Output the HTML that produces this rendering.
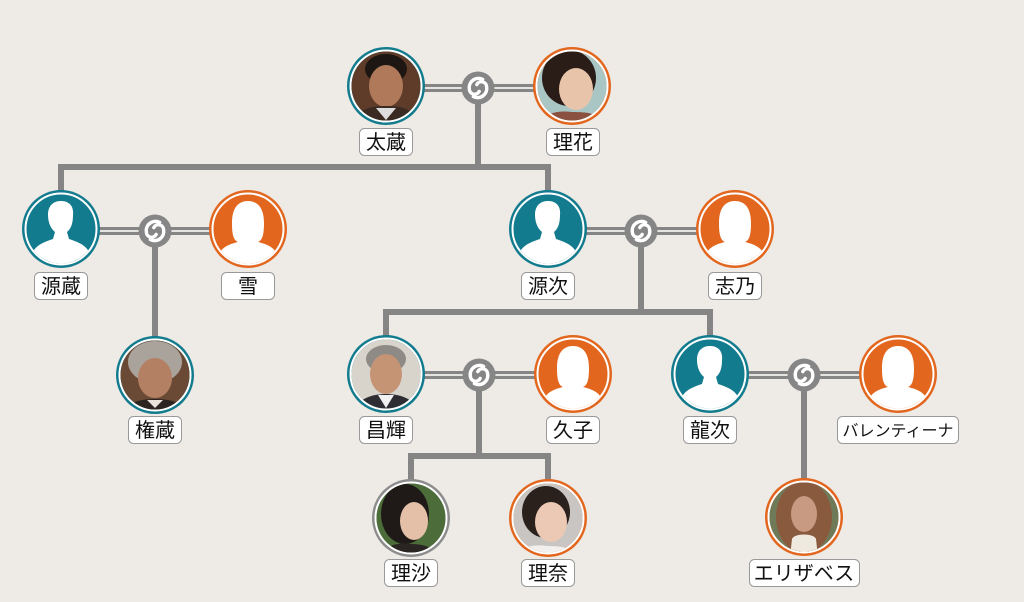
<!DOCTYPE html>
<html><head><meta charset="utf-8">
<style>
html,body{margin:0;padding:0;background:#eeebe6;}
svg{display:block;}
text{font-family:"Liberation Sans","Noto Sans CJK JP",sans-serif;fill:#111;}
</style></head>
<body>
<svg width="1024" height="602" viewBox="0 0 1024 602" xmlns="http://www.w3.org/2000/svg">
<defs>
  <clipPath id="cc"><circle cx="0" cy="0" r="34.5"/></clipPath>
  <path id="male" d="M -32,40 C -32,18 -20,14 -8,10 L -6,3 C -11,-1 -13,-8 -13,-14 C -13,-24 -7,-28 0,-28 C 8,-28 13,-23 12,-14 C 12,-8 11,-1 6,3 L 8,10 C 20,14 32,18 32,40 Z" fill="#fff"/>
  <path id="female" d="M -32,40 C -32,20 -22,16 -10,13 C -15,11 -16,4 -16,-6 C -16,-22 -9,-28 0,-28 C 9,-28 16,-22 16,-6 C 16,4 15,11 10,13 C 22,16 32,20 32,40 Z" fill="#fff"/>
  <g id="mring">
    <circle r="16.5" fill="#868686"/>
    <g transform="scale(1.15)">
    <path d="M 4,-7.5 A 8 8 0 0 0 -7.5,1 A 4.5 4.5 0 0 0 1,3" fill="none" stroke="#fff" stroke-width="3" stroke-linecap="round"/>
    <path d="M 4,-7.5 A 8 8 0 0 0 -7.5,1 A 4.5 4.5 0 0 0 1,3" fill="none" stroke="#fff" stroke-width="3" stroke-linecap="round" transform="rotate(180)"/>
    </g>
  </g>
</defs>

<!-- descent lines -->
<g stroke="#858585" stroke-width="6" fill="none">
  <path d="M 478,100 V 167 M 61,167 H 548 M 61,164 V 195 M 548,164 V 195"/>
  <path d="M 155,240 V 340"/>
  <path d="M 641,240 V 312 M 386,312 H 710 M 386,309 V 340 M 710,309 V 340"/>
  <path d="M 479,385 V 456 M 411,456 H 548 M 411,453 V 484 M 548,453 V 484"/>
  <path d="M 804,385 V 484"/>
</g>

<!-- marriage double lines -->
<g>
  <g stroke="#858585" stroke-width="8">
    <line x1="420" y1="88" x2="540" y2="88"/>
    <line x1="95" y1="231" x2="215" y2="231"/>
    <line x1="582" y1="231" x2="702" y2="231"/>
    <line x1="420" y1="375" x2="540" y2="375"/>
    <line x1="744" y1="375" x2="864" y2="375"/>
  </g>
  <g stroke="#f4f2ee" stroke-width="1.8">
    <line x1="420" y1="88" x2="540" y2="88"/>
    <line x1="95" y1="231" x2="215" y2="231"/>
    <line x1="582" y1="231" x2="702" y2="231"/>
    <line x1="420" y1="375" x2="540" y2="375"/>
    <line x1="744" y1="375" x2="864" y2="375"/>
  </g>
</g>
<use href="#mring" x="478" y="88"/>
<use href="#mring" x="155" y="231"/>
<use href="#mring" x="641" y="231"/>
<use href="#mring" x="479" y="375"/>
<use href="#mring" x="804" y="375"/>

<!-- nodes -->
<g transform="translate(386,86)">
  <circle r="39" fill="#137b8e"/><circle r="35.5" fill="none" stroke="#fff" stroke-width="2"/>
  <g clip-path="url(#cc)">
    <rect x="-40" y="-40" width="80" height="80" fill="#5e3c29"/>
    <ellipse cx="0" cy="-17" rx="21" ry="15" fill="#1e1612"/>
    <ellipse cx="0" cy="0" rx="17" ry="21" fill="#b07a5a"/>
    <path d="M -34,40 C -30,24 -18,20 0,20 C 18,20 30,24 34,40 Z" fill="#3a2a22"/>
    <path d="M -10,22 L 0,34 L 10,22 Z" fill="#ddd"/>
  </g>
</g>
<g transform="translate(572,86)">
  <circle r="39" fill="#e2661e"/><circle r="35.5" fill="none" stroke="#fff" stroke-width="2"/>
  <g clip-path="url(#cc)">
    <rect x="-40" y="-40" width="80" height="80" fill="#a9c6c4"/>
    <ellipse cx="-3" cy="-8" rx="27" ry="28" fill="#2a1d18"/>
    <ellipse cx="4" cy="3" rx="17" ry="21" fill="#e8c4aa"/>
    <path d="M -34,40 C -30,28 -16,24 0,26 C 18,26 30,28 34,40 Z" fill="#8a5040"/>
  </g>
</g>
<g transform="translate(61,229)">
  <circle r="39" fill="#137b8e"/><circle r="35.5" fill="none" stroke="#fff" stroke-width="2"/>
  <g clip-path="url(#cc)"><use href="#male"/></g>
</g>
<g transform="translate(248,229)">
  <circle r="39" fill="#e2661e"/><circle r="35.5" fill="none" stroke="#fff" stroke-width="2"/>
  <g clip-path="url(#cc)"><use href="#female"/></g>
</g>
<g transform="translate(548,229)">
  <circle r="39" fill="#137b8e"/><circle r="35.5" fill="none" stroke="#fff" stroke-width="2"/>
  <g clip-path="url(#cc)"><use href="#male"/></g>
</g>
<g transform="translate(735,229)">
  <circle r="39" fill="#e2661e"/><circle r="35.5" fill="none" stroke="#fff" stroke-width="2"/>
  <g clip-path="url(#cc)"><use href="#female"/></g>
</g>
<g transform="translate(155,375)">
  <circle r="39" fill="#137b8e"/><circle r="35.5" fill="none" stroke="#fff" stroke-width="2"/>
  <g clip-path="url(#cc)">
    <rect x="-40" y="-40" width="80" height="80" fill="#6b4a35"/>
    <ellipse cx="0" cy="-13" rx="27" ry="21" fill="#a9a39c"/>
    <ellipse cx="0" cy="3" rx="17" ry="20" fill="#b38064"/>
    <path d="M -34,40 C -30,28 -16,24 0,24 C 16,24 30,28 34,40 Z" fill="#2b2420"/>
    <path d="M -8,25 L 0,33 L 8,25 Z" fill="#e8e4dc"/>
  </g>
</g>
<g transform="translate(386,374)">
  <circle r="39" fill="#137b8e"/><circle r="35.5" fill="none" stroke="#fff" stroke-width="2"/>
  <g clip-path="url(#cc)">
    <rect x="-40" y="-40" width="80" height="80" fill="#d8d4cc"/>
    <ellipse cx="0" cy="-15" rx="20" ry="14" fill="#8e8a85"/>
    <ellipse cx="0" cy="0" rx="16" ry="20" fill="#c49474"/>
    <path d="M -34,40 C -30,26 -16,20 0,20 C 16,20 30,26 34,40 Z" fill="#2d2d33"/>
    <path d="M -8,21 L 0,34 L 8,21 Z" fill="#f0f0f0"/>
  </g>
</g>
<g transform="translate(573,374)">
  <circle r="39" fill="#e2661e"/><circle r="35.5" fill="none" stroke="#fff" stroke-width="2"/>
  <g clip-path="url(#cc)"><use href="#female"/></g>
</g>
<g transform="translate(710,374)">
  <circle r="39" fill="#137b8e"/><circle r="35.5" fill="none" stroke="#fff" stroke-width="2"/>
  <g clip-path="url(#cc)"><use href="#male"/></g>
</g>
<g transform="translate(898,374)">
  <circle r="39" fill="#e2661e"/><circle r="35.5" fill="none" stroke="#fff" stroke-width="2"/>
  <g clip-path="url(#cc)"><use href="#female"/></g>
</g>
<g transform="translate(411,518)">
  <circle r="39" fill="#8c8c8c"/><circle r="35.5" fill="none" stroke="#fff" stroke-width="2"/>
  <g clip-path="url(#cc)">
    <rect x="-40" y="-40" width="80" height="80" fill="#4c6d3a"/>
    <ellipse cx="-6" cy="-4" rx="24" ry="30" fill="#1f1a18"/>
    <ellipse cx="3" cy="3" rx="14" ry="19" fill="#e4c0a8"/>
    <path d="M -34,40 C -28,28 -14,24 0,26 C 14,26 24,30 30,40 Z" fill="#2a2422"/>
  </g>
</g>
<g transform="translate(548,518)">
  <circle r="39" fill="#e2661e"/><circle r="35.5" fill="none" stroke="#fff" stroke-width="2"/>
  <g clip-path="url(#cc)">
    <rect x="-40" y="-40" width="80" height="80" fill="#c8c5c2"/>
    <ellipse cx="-2" cy="-6" rx="24" ry="26" fill="#2a201c"/>
    <ellipse cx="3" cy="4" rx="16" ry="20" fill="#ecc9b5"/>
    <path d="M -34,40 C -28,28 -14,26 0,28 C 14,28 26,30 32,40 Z" fill="#f2f0ee"/>
  </g>
</g>
<g transform="translate(804,517)">
  <circle r="39" fill="#e2661e"/><circle r="35.5" fill="none" stroke="#fff" stroke-width="2"/>
  <g clip-path="url(#cc)">
    <rect x="-40" y="-40" width="80" height="80" fill="#6f7a58"/>
    <ellipse cx="0" cy="0" rx="28" ry="36" fill="#8a5a3e"/>
    <ellipse cx="0" cy="-3" rx="13" ry="18" fill="#c99a82"/>
    <path d="M -12,22 C -10,16 10,16 12,22 L 14,40 L -14,40 Z" fill="#eeeae0"/>
  </g>
</g>

<!-- labels -->
<g fill="#fff" stroke="#999" stroke-width="1">
  <rect x="359.5" y="128.5" width="53" height="27" rx="5"/>
  <rect x="546.5" y="128.5" width="53" height="27" rx="5"/>
  <rect x="34.5" y="272.5" width="53" height="27" rx="5"/>
  <rect x="221.5" y="272.5" width="53" height="27" rx="5"/>
  <rect x="521.5" y="272.5" width="53" height="27" rx="5"/>
  <rect x="708.5" y="272.5" width="53" height="27" rx="5"/>
  <rect x="128.5" y="416.5" width="53" height="27" rx="5"/>
  <rect x="359.5" y="416.5" width="53" height="27" rx="5"/>
  <rect x="546.5" y="416.5" width="53" height="27" rx="5"/>
  <rect x="683.5" y="416.5" width="53" height="27" rx="5"/>
  <rect x="837.5" y="416.5" width="121" height="27" rx="5"/>
  <rect x="384.5" y="559.5" width="53" height="27" rx="5"/>
  <rect x="521.5" y="559.5" width="53" height="27" rx="5"/>
  <rect x="749.5" y="559.5" width="110" height="27" rx="5"/>
</g>
<g font-size="20" text-anchor="middle">
  <text x="386" y="149">太蔵</text>
  <text x="573" y="149">理花</text>
  <text x="61" y="293">源蔵</text>
  <text x="248" y="293">雪</text>
  <text x="548" y="293">源次</text>
  <text x="735" y="293">志乃</text>
  <text x="155" y="437">権蔵</text>
  <text x="386" y="437">昌輝</text>
  <text x="573" y="437">久子</text>
  <text x="710" y="437">龍次</text>
  <text x="898" y="436" font-size="16">バレンティーナ</text>
  <text x="411" y="580">理沙</text>
  <text x="548" y="580">理奈</text>
  <text x="804" y="580">エリザベス</text>
</g>
</svg>
</body></html>
